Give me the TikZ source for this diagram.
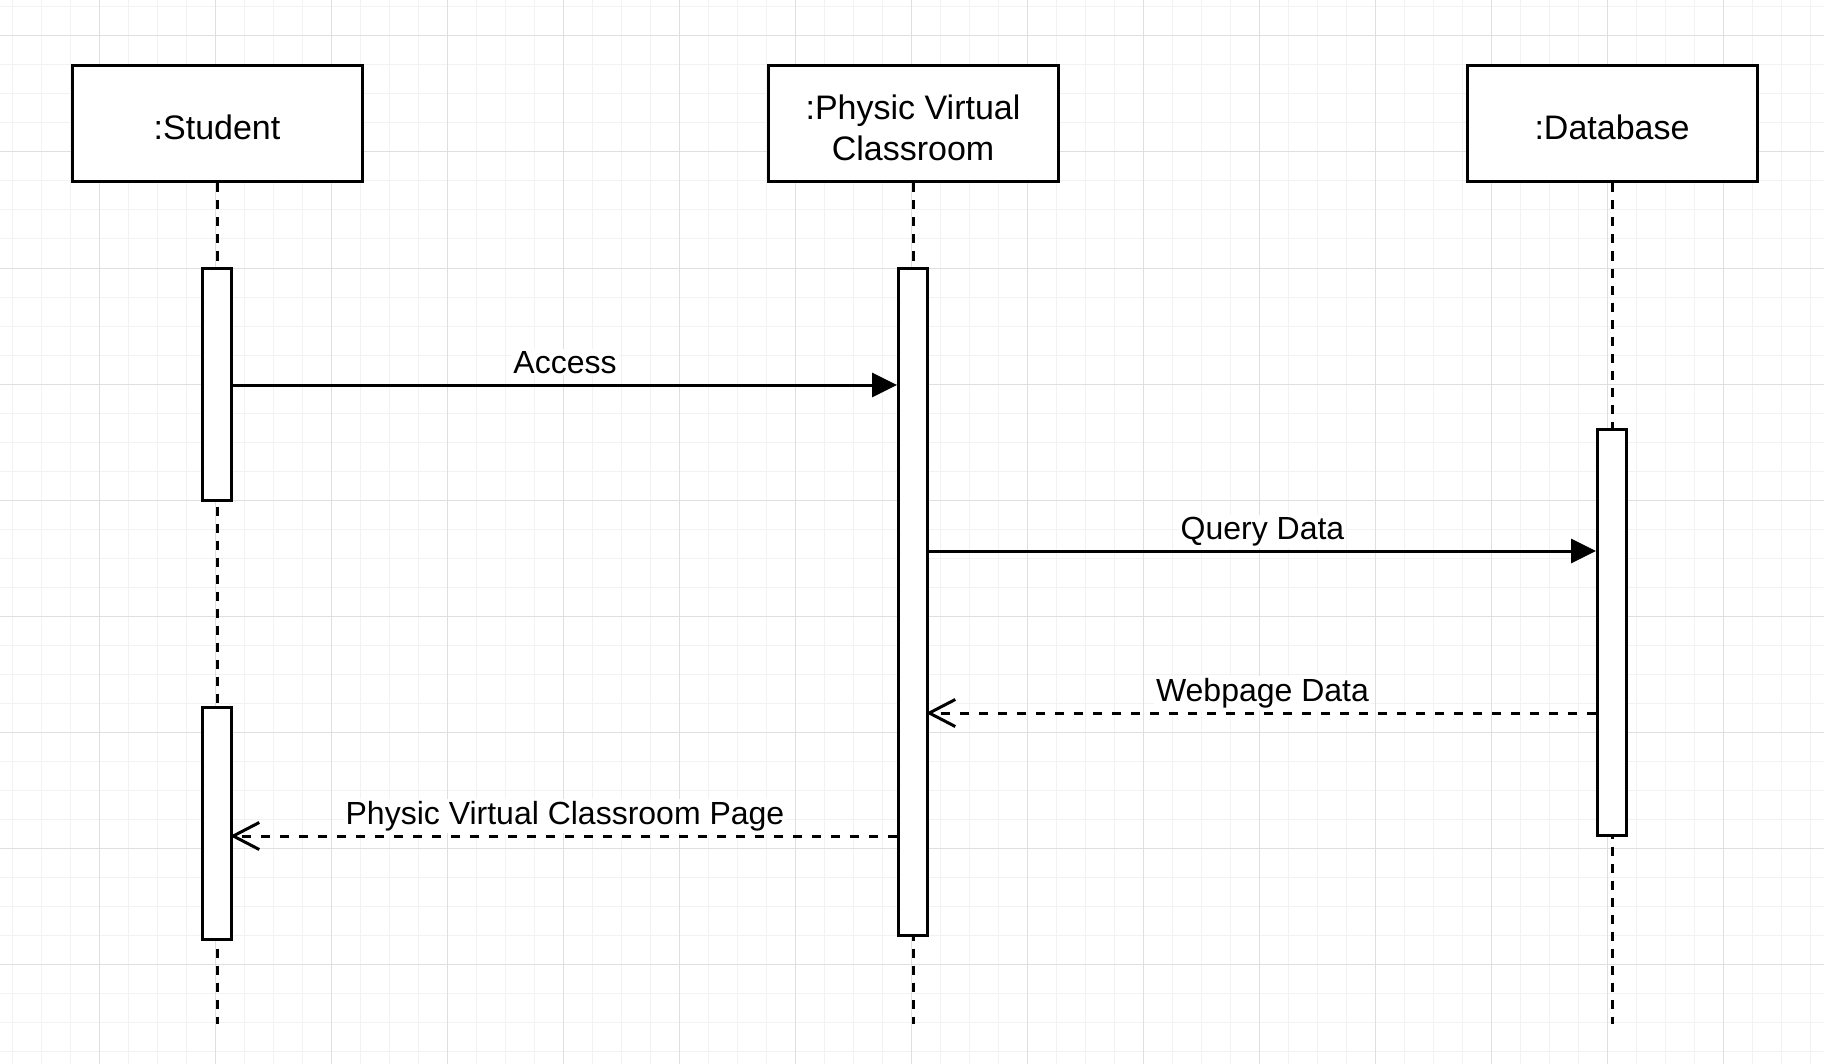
\documentclass[tikz,border=0pt]{standalone}
\usepackage{fontspec}
\setmainfont{Liberation Sans}
\usepackage{tikz}
\usetikzlibrary{arrows.meta, positioning}
\tikzstyle{objbox} = [rectangle, draw, line width=1.5pt, fill=white,
  minimum width=145pt, minimum height=58pt, align=center,
  font=\fontsize{17}{20.5}\selectfont]
\tikzstyle{activation} = [rectangle, draw, line width=1.5pt, fill=white,
  minimum width=14.5pt, inner sep=0pt]
\tikzstyle{lifeline} = [line width=1.5pt, dash pattern=on 4.5pt off 4pt]
\tikzstyle{msg} = [line width=1.5pt, -{Triangle[length=12.5pt, width=12pt]}]
\tikzstyle{ret} = [line width=1.5pt, dash pattern=on 4.5pt off 5pt,
  shorten >=-1.5pt, -{Straight Barb[length=13pt, width=13.5pt]}]
\tikzstyle{msglabel} = [midway, anchor=base, yshift=6pt, fill=white,
  inner sep=1pt, font=\fontsize{16}{18}\selectfont]
\tikzstyle{minorgrid} = [line width=0.5pt, gray!10]
\tikzstyle{majorgrid} = [line width=0.5pt, gray!25]

\begin{document}
\begin{tikzpicture}[x=0.5pt, y=-0.5pt]
    \useasboundingbox (0,0) rectangle (1824,1064);
    \fill[white] (0,0) rectangle (1824,1064);
    % background grid
    \foreach \x in {12,41,...,1824} \draw[minorgrid] (\x,0) -- (\x,1064);
    \foreach \y in {7,36,...,1064} \draw[minorgrid] (0,\y) -- (1824,\y);
    \foreach \x in {99,215,...,1824} \draw[majorgrid] (\x,0) -- (\x,1064);
    \foreach \y in {36,152,...,1064} \draw[majorgrid] (0,\y) -- (1824,\y);

    % objects
    \node[objbox, text height=16pt] (stu) at (217,124) {:Student};
    \node[objbox, text height=37pt] (pvc) at (913,124) {:Physic Virtual\\ Classroom};
    \node[objbox, text height=16pt] (db) at (1612,124) {:Database};

    % lifelines
    \coordinate (bottom) at (0,1024);
    \foreach \n in {stu,pvc,db}
      \draw[lifeline] (\n.south) -- (\n.south |- bottom);

    % activations
    \node[activation, minimum height=116pt] (stuA) at (217,384) {};
    \node[activation, minimum height=116pt] (stuB) at (217,823) {};
    \node[activation, minimum height=333.5pt] (pvcA) at (913,601.5) {};
    \node[activation, minimum height=203pt] (dbA) at (1612,632) {};

    % messages
    \coordinate (m1) at (0,385);
    \coordinate (m2) at (0,551);
    \coordinate (m3) at (0,713);
    \coordinate (m4) at (0,836);
    \draw[msg] (stuA.east |- m1) -- node[msglabel] {Access} (pvcA.west |- m1);
    \draw[msg] (pvcA.east |- m2) -- node[msglabel] {Query Data} (dbA.west |- m2);
    \draw[ret] (dbA.west |- m3) -- node[msglabel] {Webpage Data} (pvcA.east |- m3);
    \draw[ret] (pvcA.west |- m4) -- node[msglabel] {Physic Virtual Classroom Page} (stuB.east |- m4);
  \end{tikzpicture}
\end{document}
